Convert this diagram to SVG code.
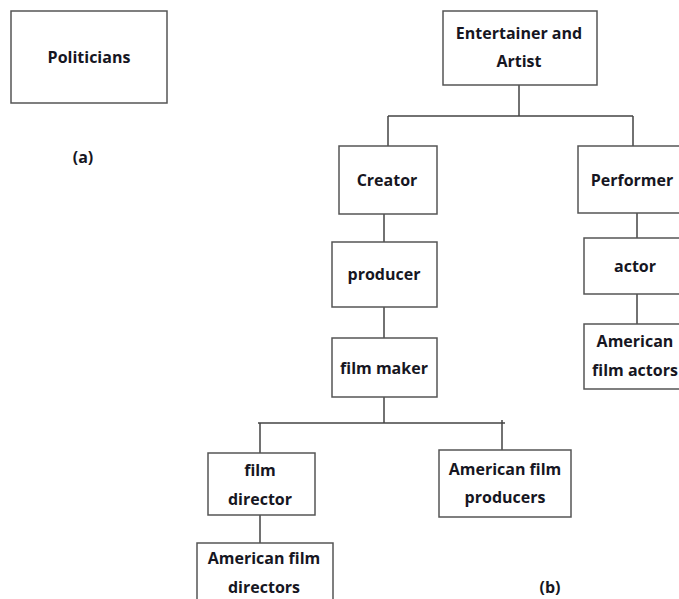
<svg xmlns="http://www.w3.org/2000/svg" width="679" height="599" viewBox="0 0 679 599">
  <style>
    .box { fill: #ffffff; stroke: #555555; stroke-width: 1.5; }
    .wire { stroke: #444444; stroke-width: 1.5; fill: none; }
    .lbl { font-family: "Open Sans", "Liberation Sans", sans-serif; font-weight: 700; font-size: 16px; fill: #161622; text-anchor: middle; }
  </style>
  <rect width="679" height="599" fill="#ffffff"/>

  <!-- panel (a) -->
  <g id="politicians">
    <rect class="box" x="11" y="11" width="156" height="92"/>
    <text class="lbl" x="89" y="63">Politicians</text>
  </g>
  <text class="lbl" x="83" y="163">(a)</text>

  <!-- panel (b): connectors -->
  <g id="connectors">
    <path class="wire" d="M519 85V116M388 116H633M388 116V146M633 116V146"/>
    <path class="wire" d="M384 214V242M384 307V338M384 397V423M258 423H505M260 423V453M502 420V450M260 515V543"/>
    <path class="wire" d="M637 213V238M637 294V324"/>
  </g>

  <!-- panel (b): nodes -->
  <g id="entertainer">
    <rect class="box" x="443" y="11" width="154" height="74"/>
    <text class="lbl" x="519" y="39">Entertainer and</text>
    <text class="lbl" x="519" y="67">Artist</text>
  </g>
  <g id="creator">
    <rect class="box" x="339" y="146" width="98" height="68"/>
    <text class="lbl" x="387" y="186">Creator</text>
  </g>
  <g id="performer">
    <rect class="box" x="578" y="146" width="122" height="67"/>
    <text class="lbl" x="632" y="186">Performer</text>
  </g>
  <g id="producer">
    <rect class="box" x="332" y="242" width="105" height="65"/>
    <text class="lbl" x="384" y="280">producer</text>
  </g>
  <g id="film-maker">
    <rect class="box" x="332" y="338" width="105" height="59"/>
    <text class="lbl" x="384" y="374">film maker</text>
  </g>
  <g id="actor">
    <rect class="box" x="584" y="238" width="116" height="56"/>
    <text class="lbl" x="635" y="272">actor</text>
  </g>
  <g id="american-film-actors">
    <rect class="box" x="584" y="324" width="116" height="65"/>
    <text class="lbl" x="635" y="347">American</text>
    <text class="lbl" x="635" y="376">film actors</text>
  </g>
  <g id="film-director">
    <rect class="box" x="208" y="453" width="107" height="62"/>
    <text class="lbl" x="260" y="476">film</text>
    <text class="lbl" x="260" y="505">director</text>
  </g>
  <g id="american-film-producers">
    <rect class="box" x="439" y="450" width="132" height="67"/>
    <text class="lbl" x="505" y="475">American film</text>
    <text class="lbl" x="505" y="503">producers</text>
  </g>
  <g id="american-film-directors">
    <rect class="box" x="197" y="543" width="136" height="77"/>
    <text class="lbl" x="264" y="564">American film</text>
    <text class="lbl" x="264" y="593">directors</text>
  </g>
  <text class="lbl" x="550" y="593">(b)</text>
</svg>
